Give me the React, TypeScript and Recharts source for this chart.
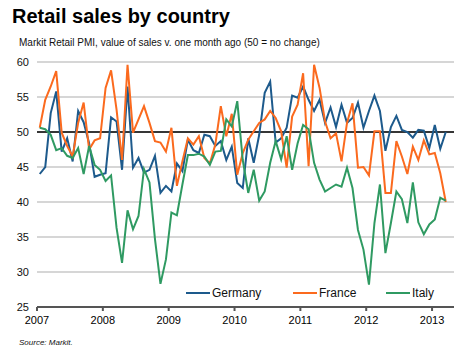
import { LineChart, Line, XAxis, YAxis, CartesianGrid, ReferenceLine } from 'recharts';

const years = ['2007', '2008', '2009', '2010', '2011', '2012', '2013'];

const germany = [
    44.0, 45.0, 52.7, 55.8, 47.2, 49.1, 45.8, 53.0, 51.4, 48.4, 43.6, 43.9,
    44.1, 52.1, 51.5, 44.6, 56.5, 44.9, 46.3, 44.2, 44.6, 46.6, 41.3, 42.3,
    41.5, 45.5, 44.4, 48.9, 47.4, 47.0, 49.6, 49.4, 48.0, 48.7, 46.0, 47.9,
    42.7, 42.0, 49.1, 45.6, 49.6, 55.6, 57.2, 48.5, 49.1, 50.6, 55.2, 54.9,
    56.5, 54.6, 53.0, 54.6, 51.3, 53.5, 50.7, 53.9, 51.3, 52.0, 54.2, 50.6,
    53.0, 55.2, 53.0, 47.3, 50.7, 52.3, 50.3, 50.0, 49.2, 50.3, 50.2, 47.7,
    51.0, 47.6, 50.0,
];

const france = [
    50.6, 54.6, 56.5, 58.7, 49.9, 48.0, 46.5, 51.3, 54.2, 47.5, 48.8, 49.1,
    56.3, 58.8, 53.2, 46.0, 59.6, 49.9, 51.8, 53.7, 51.3, 48.7, 48.5, 47.2,
    50.6, 42.3, 45.8, 49.1, 48.2, 49.4, 46.3, 45.5, 48.2, 53.7, 49.4, 52.6,
    43.9, 47.0, 48.9, 50.1, 51.3, 51.8, 53.0, 52.0, 50.1, 44.9, 52.2, 53.9,
    58.4, 45.1, 59.6, 56.3, 51.5, 49.1, 49.8, 45.8, 51.3, 54.1, 44.9, 45.0,
    43.8, 50.1, 50.1, 41.3, 41.3, 48.7, 46.5, 44.0, 47.9, 46.0, 48.8, 46.8,
    47.0, 44.1, 40.0,
];

const italy = [
    50.6, 50.4, 49.6, 47.4, 47.7, 46.6, 46.3, 47.7, 44.0, 48.0, 45.3, 44.6,
    43.0, 43.8, 36.3, 31.3, 38.8, 36.1, 38.0, 44.7, 42.8, 34.7, 28.3, 31.8,
    38.5, 38.1, 42.5, 46.7, 46.7, 46.9, 46.5, 45.3, 47.2, 47.3, 51.8, 50.8,
    54.4, 46.0, 41.3, 44.6, 40.2, 41.5, 45.6, 48.7, 46.1, 49.4, 44.6, 48.4,
    51.0, 50.4, 45.6, 43.2, 41.5, 42.0, 42.5, 42.2, 44.9, 42.0, 36.0, 33.2,
    28.2, 37.0, 42.5, 32.7, 37.0, 41.5, 40.4, 37.0, 42.8, 37.1, 35.4, 36.8,
    37.5, 40.6, 40.2,
];

const yTicks = [25, 30, 35, 40, 45, 50, 55, 60];

// month index, plotted mid-month
const data = germany.map((g, i) => ({ t: i + 0.5, germany: g, france: france[i], italy: italy[i] }));

const series = [
    { key: 'germany', name: 'Germany', color: '#1d5a8c' },
    { key: 'france', name: 'France', color: '#fb6a1e' },
    { key: 'italy', name: 'Italy', color: '#2f9a62' },
];

const legendPos = [186, 293, 386];

const font = '"Liberation Sans", Arial, sans-serif';

export default function App() {
    return (
        <div style={{ position: 'fixed', left: 0, top: 0, width: 463, height: 360, background: '#fff', fontFamily: font }}>
            <div style={{ position: 'absolute', left: 12, top: 5, fontSize: 20, fontWeight: 'bold', color: '#000' }}>
                Retail sales by country
            </div>
            <div style={{ position: 'absolute', left: 19, top: 37, fontSize: 10, color: '#111' }}>
                Markit Retail PMI, value of sales v. one month ago (50 = no change)
            </div>
            <LineChart
                width={463}
                height={360}
                data={data}
                margin={{ top: 62, right: 9, bottom: 23, left: 0 }}
                style={{ position: 'absolute', left: 0, top: 0 }}
            >
                <CartesianGrid vertical={false} stroke="#d6d6d6" strokeWidth={2} />
                <XAxis
                    dataKey="t"
                    type="number"
                    domain={[0, 76]}
                    ticks={years.map((_, i) => i * 12)}
                    tickFormatter={(v: number) => years[v / 12]}
                    height={30}
                    stroke="#555"
                    strokeWidth={2}
                    tickSize={4}
                    tick={{ fill: '#000', fontSize: 11, fontFamily: font }}
                    tickMargin={5}
                    interval={0}
                />
                <YAxis
                    type="number"
                    domain={[25, 60]}
                    ticks={yTicks}
                    width={37}
                    axisLine={false}
                    tickLine={false}
                    tick={{ fill: '#111', fontSize: 11, fontFamily: font }}
                    interval={0}
                />
                <ReferenceLine y={50} stroke="#000" strokeWidth={1.5} />
                {series.map((s) => (
                    <Line
                        key={s.key}
                        type="linear"
                        dataKey={s.key}
                        name={s.name}
                        stroke={s.color}
                        strokeWidth={2}
                        dot={false}
                        isAnimationActive={false}
                    />
                ))}
            </LineChart>
            {series.map((s, i) => (
                <div key={s.key} style={{ position: 'absolute', left: legendPos[i], top: 286, display: 'flex', alignItems: 'center', fontSize: 12, color: '#111' }}>
                    <span style={{ display: 'inline-block', width: 24, height: 2, background: s.color, marginRight: 2 }} />
                    {s.name}
                </div>
            ))}
            <div style={{ position: 'absolute', left: 19, top: 338, fontSize: 8, fontStyle: 'italic', color: '#111' }}>
                Source: Markit.
            </div>
        </div>
    );
}
